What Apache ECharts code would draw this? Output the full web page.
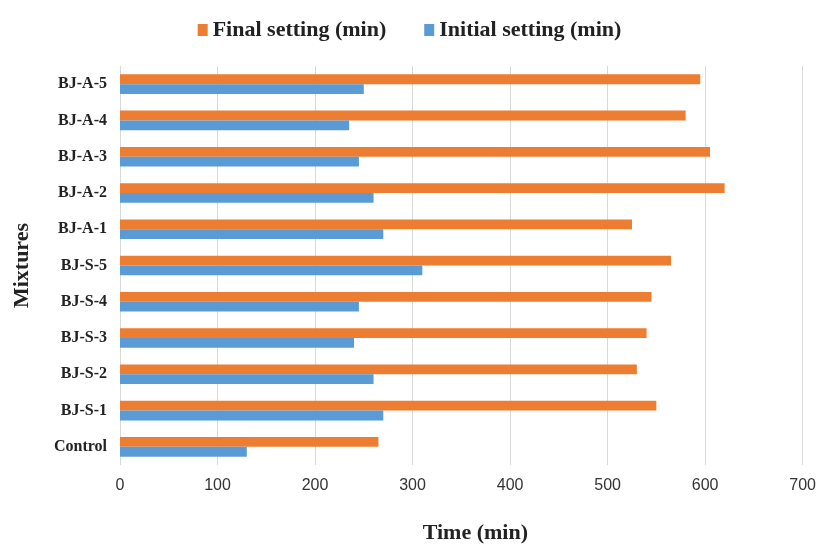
<!DOCTYPE html>
<html>
<head>
<meta charset="utf-8">
<script src="https://cdn.jsdelivr.net/npm/echarts@6/dist/echarts.min.js"></script>
<style>
  html, body { margin: 0; padding: 0; background: #fff; }
  #chart { width: 819px; height: 549px; }
</style>
</head>
<body>
<div id="chart"></div>
<script>
// Setting times of the mixtures, in minutes
const mixtures = ['Control', 'BJ-S-1', 'BJ-S-2', 'BJ-S-3', 'BJ-S-4', 'BJ-S-5',
                  'BJ-A-1', 'BJ-A-2', 'BJ-A-3', 'BJ-A-4', 'BJ-A-5'];
const finalSetting   = [265, 550, 530, 540, 545, 565, 525, 620, 605, 580, 595];
const initialSetting = [130, 270, 260, 240, 245, 310, 270, 260, 245, 235, 250];
const seriesNames = ['Final setting (min)', 'Initial setting (min)'];

const serif = '"Liberation Serif", "Times New Roman", serif';
const chart = echarts.init(document.getElementById('chart'));

chart.setOption({
  animation: false,
  color: ['#ED7D31', '#5B9BD5'],
  legend: {
    top: 14,
    left: 'center',
    icon: 'rect',
    itemWidth: 10,
    itemHeight: 12,
    itemGap: 38,
    textStyle: { fontFamily: serif, fontWeight: 'bold', fontSize: 22, color: '#222' },
    data: seriesNames
  },
  grid: { left: 120, right: 14, top: 66, bottom: 79 },
  xAxis: {
    type: 'value',
    min: 0,
    max: 700,
    interval: 100,
    name: 'Time (min)',
    nameLocation: 'middle',
    nameGap: 57,
    nameTextStyle: { fontFamily: serif, fontWeight: 'bold', fontSize: 22, color: '#222', padding: [0, 0, 0, 28] },
    axisLine: { show: false },
    axisTick: { show: false },
    axisLabel: { margin: 13, fontFamily: '"Liberation Sans", Arial, sans-serif', fontSize: 16, color: '#333' },
    splitLine: { lineStyle: { color: '#d9d9d9', width: 1 } }
  },
  yAxis: {
    type: 'category',
    data: mixtures,
    name: 'Mixtures',
    nameLocation: 'middle',
    nameRotate: 90,
    nameGap: 87,
    nameTextStyle: { fontFamily: serif, fontWeight: 'bold', fontSize: 22, color: '#222' },
    axisLine: { show: false },
    axisTick: { show: false },
    axisLabel: { margin: 13, fontFamily: serif, fontWeight: 'bold', fontSize: 16, color: '#222' }
  },
  series: [
    { name: seriesNames[0], type: 'bar', data: finalSetting, barWidth: 9.8, barGap: '0%', barCategoryGap: '47%' },
    { name: seriesNames[1], type: 'bar', data: initialSetting, barWidth: 9.8, barGap: '0%', barCategoryGap: '47%' }
  ]
});
</script>
</body>
</html>
